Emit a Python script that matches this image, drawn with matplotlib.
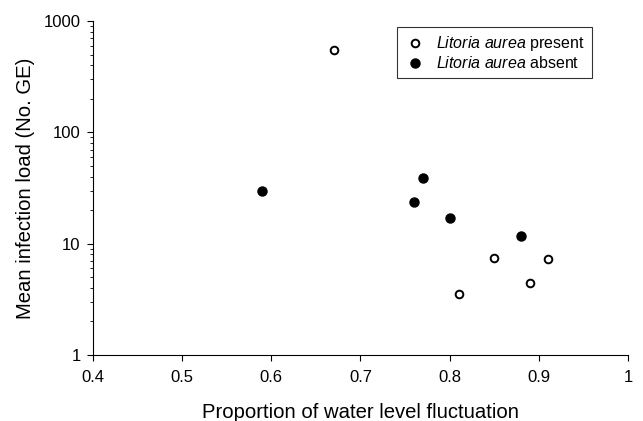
import matplotlib
matplotlib.use("Agg")
import matplotlib.pyplot as plt
from matplotlib.ticker import LogLocator, FixedLocator, NullFormatter

plt.rcParams['font.family'] = ['Liberation Sans', 'DejaVu Sans']
plt.rcParams['mathtext.fontset'] = 'custom'
plt.rcParams['mathtext.rm'] = 'Liberation Sans'
plt.rcParams['mathtext.it'] = 'Liberation Sans:italic'

# Litoria aurea present (open circles)
present_x = [0.67, 0.85, 0.91, 0.81, 0.89]
present_y = [550, 7.4, 7.3, 3.5, 4.4]

# Litoria aurea absent (filled circles)
absent_x = [0.59, 0.77, 0.76, 0.80, 0.88]
absent_y = [30, 39, 23.5, 17, 11.7]

xticks = [0.4, 0.5, 0.6, 0.7, 0.8, 0.9, 1.0]
xtick_labels = ['0.4', '0.5', '0.6', '0.7', '0.8', '0.9', '1']
yticks = [1, 10, 100, 1000]
ytick_labels = ['1', '10', '100', '1000']

fig = plt.figure(figsize=(6.43, 4.21), dpi=100)
# axes box in pixels: left 93, right 628, top 21, bottom 355
ax = fig.add_axes([93 / 643, (421 - 355) / 421, (628 - 93) / 643, (355 - 21) / 421])

ax.plot(present_x, present_y, 'o', mfc='white', mec='black', mew=1.4, ms=5.5,
        label=r'$\it{Litoria\ aurea}$ present')
ax.plot(absent_x, absent_y, 'o', mfc='black', mec='black', ms=6.5,
        label=r'$\it{Litoria\ aurea}$ absent')

ax.set_yscale('log')
ax.set_xlim(0.4, 1.0)
ax.set_ylim(1, 1000)
ax.set_xticks(xticks)
ax.set_xticklabels(xtick_labels)
ax.yaxis.set_major_locator(FixedLocator(yticks))
ax.set_yticklabels(ytick_labels)
ax.yaxis.set_minor_locator(LogLocator(base=10, subs=range(2, 10)))
ax.yaxis.set_minor_formatter(NullFormatter())

ax.spines['top'].set_visible(False)
ax.spines['right'].set_visible(False)
ax.tick_params(axis='both', which='major', direction='out', length=4, labelsize=12)
ax.tick_params(axis='x', which='major', pad=6.5)
ax.tick_params(axis='y', which='major', pad=5)
ax.tick_params(axis='y', which='minor', direction='out', length=2.5)

ax.set_xlabel('Proportion of water level fluctuation', fontsize=14.6, labelpad=13)
ax.set_ylabel('Mean infection load (No. GE)', fontsize=14.6, labelpad=6)

leg = ax.legend(loc='upper right', bbox_to_anchor=(0.933, 0.982), borderaxespad=0,
                fontsize=11.5, frameon=True, fancybox=False, edgecolor='black',
                handletextpad=0.7, borderpad=0.45, labelspacing=0.12,
                handlelength=1.3)
leg.get_frame().set_linewidth(0.8)

fig.savefig('out.png', dpi=100)
